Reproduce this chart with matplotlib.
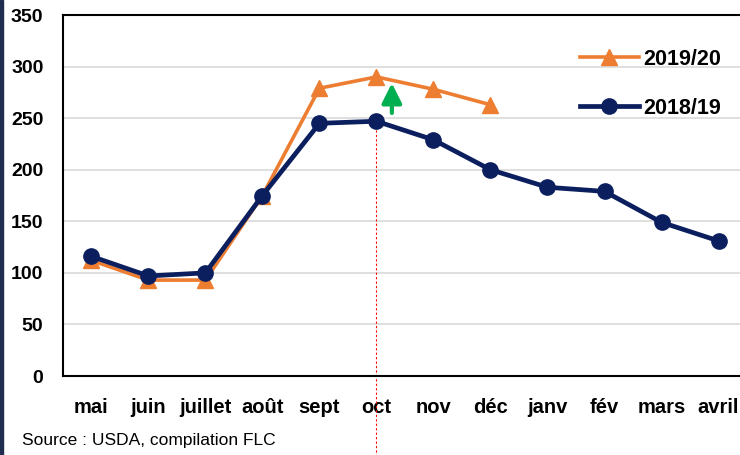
import matplotlib.pyplot as plt
from matplotlib.patches import Rectangle

plt.rcParams['font.family'] = ['Liberation Sans', 'DejaVu Sans']

months = ['mai', 'juin', 'juillet', 'août', 'sept', 'oct', 'nov', 'déc',
          'janv', 'fév', 'mars', 'avril']
s2018 = [116, 97, 100, 175, 245, 247, 229, 200, 183, 179, 149, 131]
s2019 = [112, 93, 93, 175, 279, 290, 278, 263]
yticks = [0, 50, 100, 150, 200, 250, 300, 350]

orange = '#ED7D31'
navy = '#0B1F5F'

fig = plt.figure(figsize=(7.4, 4.55), dpi=100)
ax = fig.add_axes([0.085, 0.1736, 0.9245, 0.7934])

x = list(range(len(months)))
l19, = ax.plot(x[:len(s2019)], s2019, color=orange, lw=2.6, marker='^',
               ms=11, label='2019/20', zorder=3)
l18, = ax.plot(x, s2018, color=navy, lw=3.4, marker='o', ms=11,
               label='2018/19', zorder=4)

# red dotted marker at october, running below the axis
ax.plot([5, 5], [247, -78], color='red', lw=0.8, ls=(0, (2, 2)),
        clip_on=False, zorder=2)

# green arrow
ax.annotate('', xy=(5.27, 284), xytext=(5.27, 255),
            arrowprops=dict(arrowstyle='-|>,head_width=0.3,head_length=0.6',
                            color='#00B050', lw=3, mutation_scale=20,
                            shrinkA=0, shrinkB=0), zorder=5)

ax.set_xlim(-0.5, 11.5)
ax.set_ylim(0, 350)
ax.set_yticks(yticks)
ax.set_xticks(x)
ax.set_xticklabels(months)
ax.yaxis.grid(True, color='#D9D9D9', lw=1.2)
ax.set_axisbelow(True)
ax.tick_params(length=0)
ax.tick_params(axis='y', pad=14, labelsize=14)
ax.tick_params(axis='x', pad=16, labelsize=14.5)
for lab in ax.get_xticklabels() + ax.get_yticklabels():
    lab.set_fontweight('bold')
for sp in ax.spines.values():
    sp.set_linewidth(1.5)
    sp.set_color('black')

leg = ax.legend(handles=[l19, l18], loc='upper left',
                bbox_to_anchor=(569 / 740, 1 - 38 / 455),
                bbox_transform=fig.transFigure, frameon=False,
                handlelength=2.75, handletextpad=0.2, labelspacing=1.3,
                prop={'weight': 'bold', 'size': 15.5}, borderpad=0)

fig.text(22 / 740, 1 - 441 / 455, 'Source : USDA, compilation FLC',
         fontsize=12.5, va='center', ha='left')

fig.patches.append(Rectangle((0, 0), 3 / 740, 1, transform=fig.transFigure,
                             color='#1F2D4E', zorder=10))

fig.savefig('out.png', dpi=100)
